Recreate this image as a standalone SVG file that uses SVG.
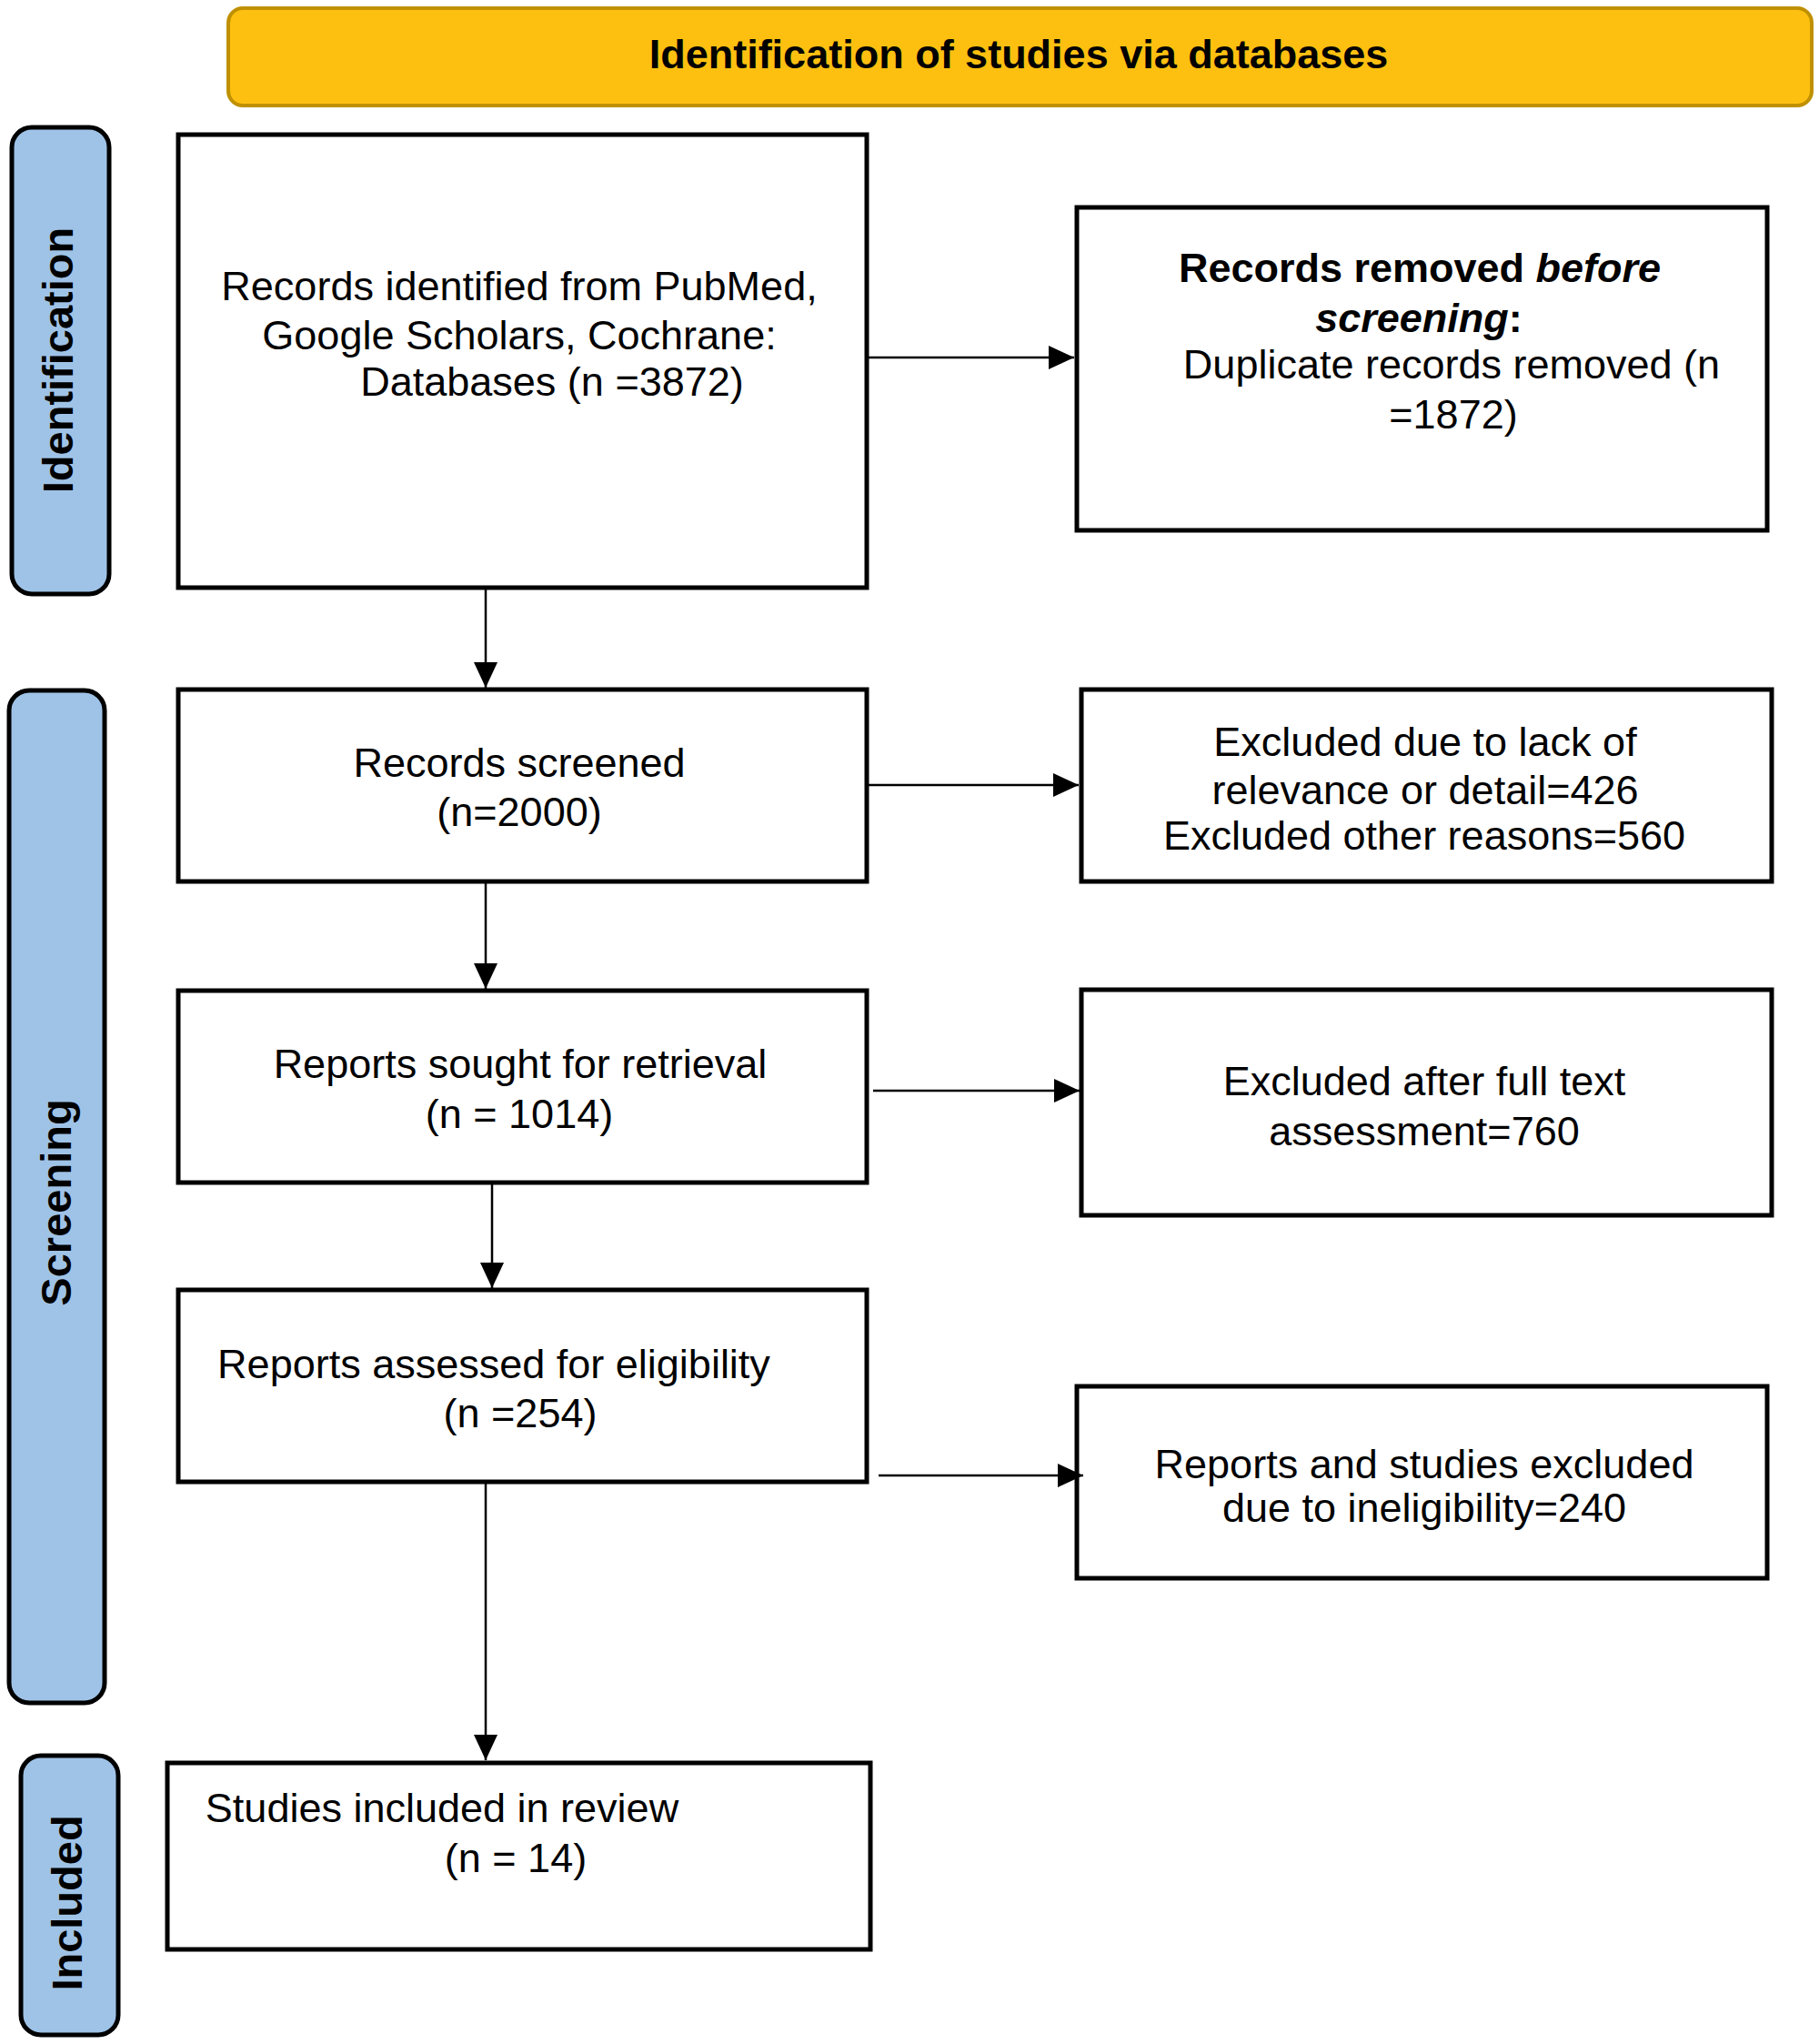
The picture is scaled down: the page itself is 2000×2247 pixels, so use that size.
<svg xmlns="http://www.w3.org/2000/svg" width="2000" height="2247" viewBox="0 0 2000 2247">
<style>
.box{fill:#fff;stroke:#000;stroke-width:5}
.side{fill:#9FC3E7;stroke:#000;stroke-width:5}
.t{font-family:"Liberation Sans",Arial,sans-serif;font-size:45px;fill:#000;text-anchor:middle}
.b{font-weight:bold}
.sl{font-family:"Liberation Sans",Arial,sans-serif;font-size:47px;font-weight:bold;fill:#000;text-anchor:middle}
.c{stroke:#000;stroke-width:2.5;fill:none;marker-end:url(#ah)}
</style>
<defs>
<marker id="ah" viewBox="0 0 28 26" refX="28" refY="13" markerWidth="28" markerHeight="26" markerUnits="userSpaceOnUse" orient="auto">
<path d="M0,0 L28,13 L0,26 Z" fill="#000"/>
</marker>
</defs>
<rect width="2000" height="2247" fill="#fff"/>
<g id="header">
<rect x="251" y="9" width="1741" height="107" rx="16" fill="#FEC010" stroke="#BF9000" stroke-width="4"/>
<text class="t b" x="1120" y="75">Identification of studies via databases</text>
</g>
<g id="side-identification">
<rect x="13" y="140" width="107" height="513" rx="22" class="side"/>
<text class="sl" transform="translate(80,396) rotate(-90)">Identification</text>
</g>
<g id="side-screening">
<rect x="10" y="759" width="105" height="1113" rx="22" class="side"/>
<text class="sl" transform="translate(78,1322) rotate(-90)">Screening</text>
</g>
<g id="side-included">
<rect x="23" y="1930" width="107" height="307" rx="22" class="side"/>
<text class="sl" transform="translate(90,2092) rotate(-90)">Included</text>
</g>
<g id="records-identified">
<rect x="196" y="148" width="757" height="498" class="box"/>
<text class="t" x="571" y="330">Records identified from PubMed,</text>
<text class="t" x="571" y="384">Google Scholars, Cochrane:</text>
<text class="t" x="607" y="435">Databases (n =3872)</text>
</g>
<g id="records-removed">
<rect x="1184" y="228" width="759" height="355" class="box"/>
<text class="t b" x="1561" y="310">Records removed <tspan font-style="italic">before</tspan></text>
<text class="t b" x="1560" y="365"><tspan font-style="italic">screening</tspan>:</text>
<text class="t" x="1596" y="416">Duplicate records removed (n</text>
<text class="t" x="1598" y="471">=1872)</text>
</g>
<g id="records-screened">
<rect x="196" y="758" width="757" height="211" class="box"/>
<text class="t" x="571" y="854">Records screened</text>
<text class="t" x="571" y="908">(n=2000)</text>
</g>
<g id="excluded-relevance">
<rect x="1189" y="758" width="759" height="211" class="box"/>
<text class="t" x="1567" y="831">Excluded due to lack of</text>
<text class="t" x="1567" y="884">relevance or detail=426</text>
<text class="t" x="1566" y="934">Excluded other reasons=560</text>
</g>
<g id="reports-sought">
<rect x="196" y="1089" width="757" height="211" class="box"/>
<text class="t" x="572" y="1185">Reports sought for retrieval</text>
<text class="t" x="571" y="1240">(n = 1014)</text>
</g>
<g id="excluded-fulltext">
<rect x="1189" y="1088" width="759" height="248" class="box"/>
<text class="t" x="1566" y="1204">Excluded after full text</text>
<text class="t" x="1566" y="1259">assessment=760</text>
</g>
<g id="reports-assessed">
<rect x="196" y="1418" width="757" height="211" class="box"/>
<text class="t" x="543" y="1515">Reports assessed for eligibility</text>
<text class="t" x="572" y="1569">(n =254)</text>
</g>
<g id="excluded-ineligible">
<rect x="1184" y="1524" width="759" height="211" class="box"/>
<text class="t" x="1566" y="1625">Reports and studies excluded</text>
<text class="t" x="1566" y="1673">due to ineligibility=240</text>
</g>
<g id="studies-included">
<rect x="184" y="1938" width="773" height="205" class="box"/>
<text class="t" x="486" y="2003">Studies included in review</text>
<text class="t" x="567" y="2058">(n = 14)</text>
</g>
<g id="connectors">
<line class="c" x1="534" y1="646" x2="534" y2="756"/>
<line class="c" x1="534" y1="969" x2="534" y2="1087"/>
<line class="c" x1="541" y1="1300" x2="541" y2="1416"/>
<line class="c" x1="534" y1="1629" x2="534" y2="1935"/>
<line class="c" x1="953" y1="393" x2="1181" y2="393"/>
<line class="c" x1="953" y1="863" x2="1186" y2="863"/>
<line class="c" x1="960" y1="1199" x2="1187" y2="1199"/>
<line class="c" x1="966" y1="1622" x2="1191" y2="1622"/>
</g>
</svg>
